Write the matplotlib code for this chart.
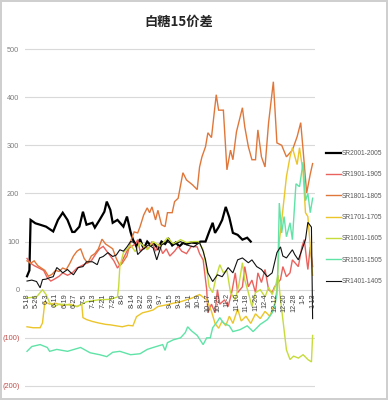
import matplotlib
matplotlib.use("Agg")
import matplotlib.pyplot as plt

plt.rcParams['font.family'] = ['Liberation Sans', 'DejaVu Sans']

# ---- data (day index from 5-18) ----
tick_days = list(range(0, 241, 8))
tick_labels = ["5-18", "5-26", "6-3", "6-11", "6-19", "6-27", "7-5", "7-13", "7-21",
               "7-29", "8-6", "8-14", "8-22", "8-30", "9-7", "9-15", "9-23", "10-1",
               "10-9", "10-17", "10-25", "11-2", "11-10", "11-18", "11-26", "12-4",
               "12-12", "12-20", "12-28", "1-5", "1-13"]

sr2001_days = [0, 2, 3, 7, 11, 16, 22, 26, 30, 34, 38, 40, 44, 47, 50, 55, 57, 61, 65, 67,
               70, 72, 76, 81, 84, 87, 89, 92, 95, 98, 101, 104, 107, 110, 113, 116, 119,
               122, 125, 128, 131, 134, 138, 142, 146, 150, 153, 156, 158, 161, 164, 167,
               170, 173, 177, 181, 185, 188]
sr2001_vals = [28, 40, 145, 138, 135, 131, 121, 145, 160, 145, 120, 120, 131, 162, 135, 139,
               129, 145, 162, 183, 166, 139, 145, 131, 152, 120, 104, 90, 105, 85, 100, 92,
               95, 85, 100, 95, 105, 92, 98, 90, 97, 95, 98, 97, 100, 100, 120, 139, 118,
               130, 145, 172, 150, 118, 114, 104, 108, 100]

sr1901_days = [0, 3, 6, 10, 14, 17, 20, 23, 27, 30, 34, 38, 42, 46, 50, 54, 58, 61, 64, 67,
               70, 73, 76, 79, 82, 85, 88, 91, 93, 95, 99, 102, 105, 108, 111, 114, 117, 120,
               124, 127, 130, 134, 138, 143, 145, 148, 151, 152, 155, 158, 160, 162, 166,
               169, 172, 175, 177, 181, 183, 186, 189, 192, 194, 197, 200, 203, 206, 208,
               213, 215, 218, 221, 223, 228, 231, 233, 235, 236, 238, 240]
sr1901_vals = [65, 55, 50, 45, 40, 25, 18, 22, 28, 35, 30, 35, 45, 50, 55, 60, 75, 85, 90, 80,
               70, 60, 45, 55, 70, 85, 90, 95, 104, 80, 90, 85, 100, 80, 95, 75, 85, 70, 80,
               90, 80, 75, 90, 89, 75, 62, 0, -48, -30, -48, 0, -30, -21, -35, -6, 35, -6, 6,
               48, 6, 20, -6, 35, 15, 42, 0, -6, 6, 21, 48, 27, 35, 62, 48, 89, 104, 62, 42,
               89, 48]

sr1801_days = [0, 3, 6, 9, 12, 15, 18, 21, 24, 27, 30, 33, 36, 39, 42, 45, 48, 51, 54, 57,
               60, 63, 66, 69, 72, 75, 78, 80, 84, 87, 90, 93, 95, 98, 101, 103, 105, 108,
               110, 113, 116, 118, 122, 124, 127, 131, 134, 139, 143, 145, 147, 150, 152,
               155, 159, 161, 165, 168, 171, 173, 176, 181, 183, 186, 189, 192, 194, 197,
               200, 203, 207, 210, 214, 218, 223, 227, 230, 232, 235, 238, 240]
sr1801_vals = [60, 55, 60, 50, 45, 40, 28, 32, 40, 38, 45, 42, 55, 70, 80, 85, 65, 55, 70, 75,
               85, 105, 95, 90, 85, 65, 50, 55, 70, 100, 120, 118, 131, 155, 170, 160, 172,
               145, 165, 135, 131, 160, 160, 183, 190, 243, 228, 218, 208, 255, 276, 297, 326,
               316, 405, 373, 373, 249, 290, 270, 328, 378, 338, 297, 270, 270, 332, 276, 255,
               347, 432, 305, 300, 276, 290, 318, 347, 290, 201, 240, 262]

sr1701_days = [0, 5, 11, 13, 15, 19, 24, 30, 36, 42, 46, 47, 50, 55, 60, 66, 70, 75, 80, 85,
               89, 92, 97, 102, 106, 110, 114, 118, 123, 129, 134, 139, 145, 151, 155, 158,
               161, 164, 167, 170, 173, 177, 180, 184, 188, 192, 196, 200, 204, 208, 210,
               212, 215, 218, 221, 223, 227, 229, 232, 234, 236, 239, 240]
sr1701_vals = [-77, -79, -79, -69, -25, -30, -28, -33, -30, -35, -30, -58, -62, -66, -69, -72,
               -73, -75, -77, -74, -75, -56, -48, -45, -42, -35, -33, -31, -28, -25, -21, -17,
               -10, -21, -45, -70, -80, -65, -75, -55, -70, -40, -65, -55, -70, -50, -60, -45,
               -55, -30, 0, 100, 166, 235, 276, 295, 260, 295, 243, 160, 152, 62, 30]

sr1601_days = [0, 8, 13, 16, 19, 23, 27, 34, 42, 50, 60, 70, 76, 77, 78, 81, 85, 87, 91, 95,
               101, 106, 112, 118, 123, 129, 134, 140, 144, 148, 151, 153, 156, 159, 162, 165,
               168, 171, 175, 178, 181, 183, 186, 189, 192, 196, 200, 203, 206, 209, 211, 213,
               215, 218, 221, 224, 228, 232, 236, 239, 240]
sr1601_vals = [-17, -15, 0, -10, -27, -35, -30, -31, -35, -25, -21, -20, -15, 6, 48, 77, 87,
               93, 79, 98, 83, 100, 90, 108, 95, 104, 98, 100, 100, 83, 42, 6, -6, 27, 52, 35,
               40, -6, -21, 10, 56, 20, -6, -35, -6, 0, -15, 5, -10, 10, 30, -20, -62, -125,
               -145, -138, -142, -135, -145, -150, -95]

sr1501_days = [0, 4, 11, 17, 19, 25, 34, 45, 53, 61, 67, 72, 78, 87, 95, 101, 106, 114, 116,
               118, 123, 129, 133, 135, 138, 143, 148, 151, 154, 156, 160, 162, 165, 170, 173,
               179, 185, 190, 196, 202, 206, 208, 210, 211, 212, 214, 216, 218, 221, 223, 226,
               229, 232, 234, 236, 238, 240]
sr1501_vals = [-128, -118, -114, -120, -128, -124, -128, -120, -131, -135, -139, -130, -128,
               -135, -133, -124, -120, -114, -126, -110, -104, -100, -89, -77, -85, -95, -114,
               -100, -100, -79, -66, -58, -69, -75, -87, -83, -75, -87, -72, -62, -48, -35,
               -10, 60, 180, 118, 152, 110, 139, 104, 220, 214, 265, 185, 200, 160, 190]

sr1401_days = [0, 4, 8, 11, 13, 16, 19, 22, 25, 28, 30, 34, 37, 39, 43, 47, 50, 55, 59, 61,
               64, 68, 72, 75, 78, 81, 84, 87, 91, 93, 97, 102, 106, 109, 113, 118, 123, 129,
               134, 140, 145, 148, 150, 152, 156, 160, 164, 169, 173, 177, 181, 186, 189, 193,
               197, 202, 206, 210, 213, 215, 218, 223, 225, 228, 231, 234, 236, 239, 240]
sr1401_vals = [18, 20, 17, 4, 21, 22, 25, 27, 46, 40, 35, 42, 35, 31, 46, 48, 58, 58, 52, 66,
               69, 77, 69, 72, 83, 80, 89, 100, 98, 73, 83, 93, 87, 62, 93, 100, 93, 100, 93,
               89, 98, 80, 62, 35, 17, 31, 27, 46, 35, 62, 66, 56, 62, 48, 42, 27, 35, 77, 89,
               70, 66, 83, 73, 62, 83, 104, 140, 130, -60]

series = [
    ("SR2001-2005", sr2001_days, sr2001_vals, "#000000", 1.6),
    ("SR1901-1905", sr1901_days, sr1901_vals, "#EA625E", 1.0),
    ("SR1801-1805", sr1801_days, sr1801_vals, "#E0773A", 1.0),
    ("SR1701-1705", sr1701_days, sr1701_vals, "#EBC52A", 1.0),
    ("SR1601-1605", sr1601_days, sr1601_vals, "#C6DC3A", 1.0),
    ("SR1501-1505", sr1501_days, sr1501_vals, "#5FE3A7", 1.0),
    ("SR1401-1405", sr1401_days, sr1401_vals, "#111111", 0.8),
]

ytick_vals = [-200, -100, 0, 100, 200, 300, 400, 500]

# ---- figure ----
fig = plt.figure(figsize=(3.88, 4.0), dpi=100)
fig.patch.set_facecolor("white")
fig.patch.set_edgecolor("#cfcfcf")
fig.patch.set_linewidth(1.5)

ax = fig.add_axes([25 / 388, 11.6 / 400, 290 / 388, 341.8 / 400])
ax.set_xlim(-1.7, 242)
ax.set_ylim(-205, 505)
for s in ax.spines.values():
    s.set_visible(False)

ax.set_yticks(ytick_vals)
ax.set_yticklabels([f"({-v})" if v < 0 else str(v) for v in ytick_vals])
for lab, v in zip(ax.get_yticklabels(), ytick_vals):
    lab.set_color("#C0504D" if v < 0 else "#7f7f7f")
    lab.set_fontsize(5.3)
ax.tick_params(axis="y", length=0, pad=4)
ax.yaxis.grid(True, color="#d9d9d9", linewidth=0.8)
ax.set_axisbelow(True)
ax.set_xticks([])

for name, d, v, col, lw in series:
    ax.plot(d, v, color=col, linewidth=lw, label=name, solid_joinstyle="miter")

# date labels sit just below the zero line
for d, lab in zip(tick_days, tick_labels):
    ax.annotate(lab, xy=(d, 0), xytext=(0, -2.5), textcoords="offset points",
                rotation=90, ha="center", va="top", fontsize=5.2, color="#404040")

fig.text(179 / 388, 1 - 22 / 400, "白糖15价差", fontsize=9.5, fontweight="bold",
         family=["Noto Sans CJK SC", "DejaVu Sans"], ha="center", va="center",
         color="#262626")

leg = fig.legend(loc="center left", bbox_to_anchor=(326 / 388, 1 - 217.5 / 400),
                 bbox_transform=fig.transFigure, frameon=False, fontsize=4.8,
                 labelspacing=2.15, handlelength=2.2, handletextpad=0.15,
                 borderpad=0, borderaxespad=0)
for t in leg.get_texts():
    t.set_color("#595959")

fig.savefig("out.png", dpi=100)
